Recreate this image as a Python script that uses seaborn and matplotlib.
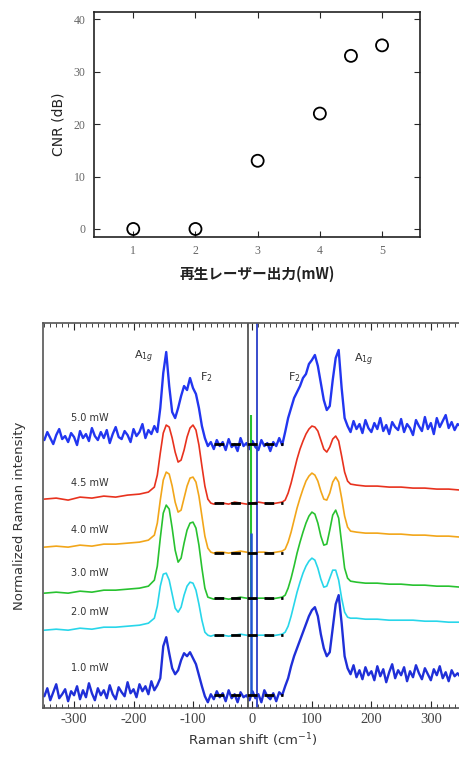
import numpy as np
import pandas as pd
import matplotlib
matplotlib.use("Agg")
import matplotlib.pyplot as plt
import seaborn as sns
from matplotlib.ticker import MultipleLocator

# --- DATA: CNR vs readout laser power ---
POWER_MW = [1, 2, 3, 4, 4.5, 5]
CNR_DB = [0, 0, 13, 22, 33, 35]

# --- DATA: Raman spectra (intensity in arbitrary stacked units) ---
X_FINE = np.arange(-350, 355, 5)

BLUE_TOP = [
    268, 276, 270, 264, 273, 279, 269, 272, 266, 275,
    271, 263, 277, 270, 274, 267, 280, 272, 268, 276,
    270, 278, 265, 274, 281, 271, 269, 277, 273, 266,
    279, 272, 276, 284, 270, 278, 274, 282, 276, 300,
    335, 356, 322, 296, 290, 300, 312, 322, 318, 330,
    320, 314, 300, 282, 270, 262, 266, 259, 268, 262,
    266, 258, 269, 261, 264, 257, 270, 262, 265, 259,
    267, 261, 258, 268, 262, 265, 257, 266, 262, 270,
    263, 276, 290, 300, 310, 316, 322, 330, 334, 344,
    348, 353, 342, 325, 308, 298, 302, 328, 350, 358,
    320, 290, 282, 276, 287, 279, 284, 275, 288, 280,
    276, 285, 279, 290, 277, 283, 274, 286, 281, 278,
    289, 276, 284, 280, 273, 288, 282, 277, 291, 279,
    285, 274, 290, 281, 287, 293, 280, 286, 278, 284,
    282,
]

BLUE_BOTTOM = [
    12, 20, 8, 16, 24, 10, 14, 19, 7, 17,
    13, 22, 9, 18, 11, 25, 15, 8, 20, 13,
    18, 10, 23, 14, 9, 21, 16, 12, 26, 15,
    19, 11, 24, 17, 22, 14, 27, 18, 23, 30,
    62, 71, 55, 40, 34, 38, 48, 55, 52, 56,
    50, 44, 33, 22, 12, 6, 14, 9, 17, 11,
    15, 7, 18, 10, 14, 6, 16, 11, 13, 8,
    17, 10, 14, 6, 18, 12, 9, 15, 7, 16,
    13, 22, 30, 42, 52, 60, 68, 76, 84, 92,
    98, 101, 92, 74, 60, 52, 56, 80, 104, 113,
    85, 52, 40, 34, 43, 31, 38, 29, 41, 33,
    37, 28, 42, 32, 39, 26, 36, 44, 30, 38,
    33, 41, 27, 37, 31, 43, 35, 29, 40, 34,
    28, 39, 33, 42, 30, 36, 27, 38, 32, 35,
    31,
]

X_SMOOTH = [
    -350, -330, -310, -290, -270, -250, -230, -210, -190, -175, -165,
    -160, -155, -150, -145, -140, -135, -130, -125, -120, -115, -110,
    -105, -100, -95, -90, -85, -80, -75, -70, -65, -60,
    -50, -40, -30, -20, -10, 0, 10, 20, 30, 40, 50,
    55, 60, 65, 70, 75, 80, 85, 90, 95, 100, 105, 110, 115, 120, 125,
    130, 135, 140, 145, 150, 155, 160, 165,
    175, 190, 210, 230, 250, 270, 290, 310, 330, 350,
]

RED_45 = [
    209, 210, 208, 211, 210, 212, 211, 213, 214, 216, 221,
    233, 255, 275, 283, 281, 270, 256, 246, 248, 258, 271,
    280, 283, 278, 263, 242, 222, 209, 205, 204, 205,
    205, 204, 206, 205, 204, 205, 206, 205, 204, 205, 206,
    208, 215, 225, 237, 249, 259, 267, 274, 279, 282, 281, 277, 268, 259, 256,
    261, 269, 272, 267, 252, 236, 227, 224,
    223, 222, 222, 221, 221, 220, 220, 219, 219, 218,
]
ORANGE_40 = [
    161, 162, 161, 163, 162, 164, 164, 165, 166, 168, 173,
    185, 208, 228, 236, 234, 222, 206, 196, 198, 210, 222,
    230, 231, 226, 212, 192, 172, 160, 156, 155, 156,
    156, 155, 156, 157, 156, 155, 156, 156, 155, 156, 157,
    159, 166, 176, 188, 200, 210, 219, 227, 232, 235, 233, 227, 217, 209, 208,
    215, 226, 231, 226, 210, 192, 181, 177,
    176, 175, 175, 174, 174, 173, 173, 172, 172, 171,
]
GREEN_30 = [
    115, 116, 115, 117, 116, 118, 118, 119, 120, 122, 128,
    142, 170, 195, 203, 199, 180, 158, 146, 150, 165, 178,
    185, 186, 180, 163, 140, 120, 111, 110, 109, 110,
    110, 109, 110, 111, 110, 109, 110, 110, 109, 110, 111,
    113, 120, 130, 142, 155, 166, 176, 185, 192, 196, 194, 185, 172, 163, 164,
    178, 193, 198, 190, 165, 140, 130, 127,
    126, 125, 125, 124, 124, 123, 123, 122, 122, 121,
]
CYAN_20 = [
    78, 79, 78, 80, 79, 81, 81, 82, 83, 85, 90,
    102, 122, 134, 135, 128, 114, 100, 96, 101, 113, 122,
    126, 125, 118, 104, 88, 76, 73, 72, 73, 72,
    73, 72, 73, 74, 73, 72, 73, 73, 72, 73, 74,
    76, 82, 92, 104, 116, 126, 135, 142, 147, 150, 148, 140, 129, 121, 122,
    130, 138, 138, 128, 110, 96, 91, 90,
    90, 89, 89, 88, 88, 88, 87, 87, 86, 86,
]

SPEC_LABELS = ["5.0 mW", "4.5 mW", "4.0 mW", "3.0 mW", "2.0 mW", "1.0 mW"]
LABEL_Y = [290, 225, 178, 135, 96, 40]
BASE_LEVELS = [264, 205, 155, 110, 73, 13]
DASH_RANGE = (-65, 52)
LASER_LINES = [-7, 8]

COLORS = {
    "5.0 mW": "#2236f0",
    "4.5 mW": "#e8321e",
    "4.0 mW": "#f2a61a",
    "3.0 mW": "#28c230",
    "2.0 mW": "#28d6ea",
    "1.0 mW": "#1f2fd8",
}

# --- FIGURE ---
sns.set_style("ticks")
plt.rcParams['font.family'] = ['DejaVu Sans']
fig = plt.figure(figsize=(4.59, 7.69), dpi=100)

# Top panel: CNR
ax1 = fig.add_axes([0.205, 0.692, 0.71, 0.292])
sns.scatterplot(x=POWER_MW, y=CNR_DB, ax=ax1, marker='o', s=75,
                facecolor='none', edgecolor='black', linewidth=1.3)
ax1.set_xlim(0.37, 5.61)
ax1.set_ylim(-1.5, 41.3)
ax1.set_xticks([1, 2, 3, 4, 5])
ax1.set_yticks([0, 10, 20, 30, 40])
ax1.tick_params(direction='in', top=True, right=True, length=4, width=0.8,
                labelsize=8.5, labelcolor='#666666', pad=6)
for lab in ax1.get_xticklabels() + ax1.get_yticklabels():
    lab.set_family('Liberation Serif')
for sp in ax1.spines.values():
    sp.set_linewidth(1.2)
    sp.set_color('#222222')
ax1.set_ylabel("CNR (dB)", fontsize=10, labelpad=6, color='#222222')
ax1.set_xlabel("再生レーザー出力(mW)", fontsize=10.5, fontweight='bold',
               family=['Noto Sans CJK JP', 'DejaVu Sans'], labelpad=6, color='#222222')

# Bottom panel: Raman spectra
ax2 = fig.add_axes([0.094, 0.079, 0.912, 0.501])

smooth = pd.DataFrame({
    "shift": X_SMOOTH * 4,
    "intensity": RED_45 + ORANGE_40 + GREEN_30 + CYAN_20,
    "power": sum([[p] * len(X_SMOOTH) for p in SPEC_LABELS[1:5]], []),
})
sns.lineplot(data=smooth, x="shift", y="intensity", hue="power", palette=COLORS,
             estimator=None, sort=False, lw=1.2, legend=False, ax=ax2)
sns.lineplot(x=X_FINE, y=BLUE_TOP, color=COLORS["5.0 mW"], lw=1.7, ax=ax2)
sns.lineplot(x=X_FINE, y=BLUE_BOTTOM, color=COLORS["1.0 mW"], lw=1.7, ax=ax2)

ax2.axvline(LASER_LINES[0], color='#555555', lw=1.3)
ax2.axvline(LASER_LINES[1], color='#2a3ec8', lw=1.3)
ax2.vlines(-3, BASE_LEVELS[3], 293, color='#28c230', lw=1.5)
ax2.vlines(-2, BASE_LEVELS[5], 175, color='#1f55d0', lw=1.8)

ax2.hlines(BASE_LEVELS, DASH_RANGE[0], DASH_RANGE[1], color='black', lw=2.0,
           linestyles=(0, (3.5, 2.5)))

for lab, ly in zip(SPEC_LABELS, LABEL_Y):
    ax2.text(-305, ly, lab, fontsize=7, color='#333333', ha='left', va='center')

ax2.text(-200, 351, r"A$_{1g}$", fontsize=8, color='#333333', ha='left', va='center')
ax2.text(-88, 331, r"F$_2$", fontsize=8, color='#333333', ha='left', va='center')
ax2.text(60, 331, r"F$_2$", fontsize=8, color='#333333', ha='left', va='center')
ax2.text(170, 348, r"A$_{1g}$", fontsize=8, color='#333333', ha='left', va='center')

ax2.set_xlim(-352, 352)
ax2.set_ylim(0, 385)
ax2.set_yticks([])
ax2.xaxis.set_major_locator(MultipleLocator(100))
ax2.xaxis.set_minor_locator(MultipleLocator(10))
ax2.tick_params(axis='x', which='both', direction='in', top=True, labeltop=False,
                labelsize=10.5, labelcolor='#444444')
ax2.tick_params(axis='x', which='major', length=5, width=0.8)
ax2.tick_params(axis='x', which='minor', length=3, width=0.6)
ax2.set_xticks([-300, -200, -100, 0, 100, 200, 300])
ax2.set_xticklabels(['-300', '-200', '-100', '0', '100', '200', '300'])
for lab in ax2.get_xticklabels():
    lab.set_family('Liberation Serif')
for sp in ax2.spines.values():
    sp.set_linewidth(1.2)
    sp.set_color('#555555')
ax2.set_xlabel("Raman shift (cm$^{-1}$)", fontsize=9.5, color='#333333', labelpad=4)
ax2.set_ylabel("Normalized Raman intensity", fontsize=9.5, color='#333333', labelpad=12)

fig.savefig("out.png", dpi=100)
